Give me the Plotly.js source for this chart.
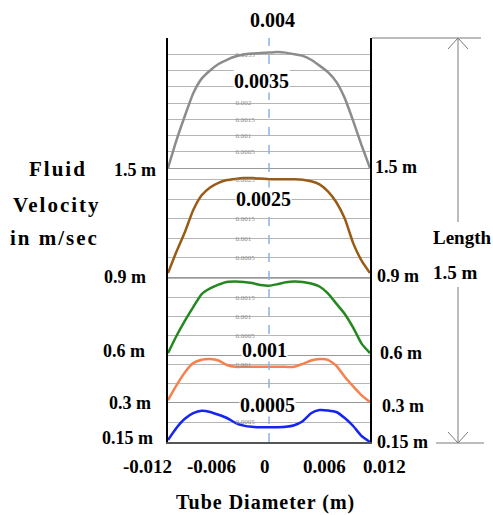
<!DOCTYPE html>
<html><head><meta charset="utf-8">
<script src="https://cdn.plot.ly/plotly-3.0.1.min.js"></script>
<style>html,body{margin:0;padding:0;background:#fff;}</style>
</head><body><div id="chart" style="width:493px;height:515px;"></div>
<script>
// Tube diameter positions (m)
const diameter = [-0.012,-0.011,-0.010,-0.009,-0.008,-0.007,-0.006,-0.005,-0.004,-0.003,-0.002,-0.001,0,
                  0.001,0.002,0.003,0.004,0.005,0.006,0.007,0.008,0.009,0.010,0.011,0.012];
// Fluid velocity (m/sec) at each axial station
const vel_1_5m  = [0,0.00085,0.0016,0.0023,0.00275,0.0030,0.0032,0.00333,0.00343,0.00349,0.00352,0.00354,0.00355,
                   0.00357,0.00355,0.0035,0.00345,0.00333,0.00315,0.00295,0.00265,0.00215,0.00145,0.0007,0];
const vel_0_9m  = [0.0001,0.00065,0.00115,0.00172,0.0021,0.0023,0.00242,0.00249,0.00252,0.00254,0.00254,0.00253,0.00251,
                   0.00251,0.00251,0.00251,0.0025,0.00246,0.00238,0.0022,0.00192,0.0015,0.00087,0.00042,0.0001];
const vel_0_6m  = [0.00005,0.0005,0.0009,0.00126,0.0016,0.00175,0.00185,0.00192,0.00193,0.00192,0.00189,0.00184,0.00182,
                   0.00186,0.00191,0.00193,0.00192,0.00188,0.0018,0.00162,0.00135,0.00108,0.00072,0.0003,0.00005];
const vel_0_3m  = [0.00005,0.00045,0.0008,0.00105,0.00114,0.00116,0.00112,0.001,0.00095,0.00095,0.00095,0.00095,0.00095,
                   0.00095,0.00095,0.00095,0.00103,0.00112,0.00116,0.00114,0.00098,0.00068,0.00042,0.00018,0];
const vel_0_15m = [0.00005,0.00035,0.00058,0.00072,0.00078,0.00075,0.00068,0.0006,0.00048,0.00041,0.00038,0.00037,0.00037,
                   0.00037,0.00038,0.00042,0.00052,0.00072,0.0008,0.00079,0.00075,0.0006,0.0004,0.00015,0];
// Station labels, tick labels
const stations = ['0.15 m','0.3 m','0.6 m','0.9 m','1.5 m'];
const xTickVals = [-0.012,-0.006,0,0.006,0.012];
const xTickText = ['-0.012','-0.006','0','0.006','0.012'];
const peakLabels = ['0.0005','0.001','0.0025','0.0035','0.004'];
// inner (faint) y tick values per panel, bottom panel first
const yTicks = [
  [0,0.0005,0.001],
  [0,0.0005,0.001],
  [0,0.0005,0.001,0.0015,0.002],
  [0,0.0005,0.001,0.0015,0.002,0.0025],
  [0,0.0005,0.001,0.0015,0.002,0.0025,0.003,0.0035,0.004]
];
const yTickText = [
  ['0','0.0005',''],
  ['','','0.001'],
  ['0','0.0005','0.001','0.0015',''],
  ['0','0.0005','0.001','0.0015','','0.0025'],
  ['0','0.0005','0.001','0.0015','0.002','','','0.0035','0.004']
];

const FONT = 'Liberation Serif, Times New Roman, serif';
const series = [vel_0_15m, vel_0_3m, vel_0_6m, vel_0_9m, vel_1_5m];
const colors = ['#1524f0','#f5824e','#23891f','#9a5b17','#8c8c8c'];
const yaxNames = ['y','y2','y3','y4','y5'];

const traces = series.map((v,i)=>({
  x: diameter, y: v, type:'scatter', mode:'lines', name: stations[i],
  xaxis:'x', yaxis: yaxNames[i], line:{color:colors[i], width:2.5, shape:'spline', smoothing:0.5},
  hoverinfo:'skip'
}));

// layout geometry (pixel-derived)
const PL=168, PR=370, PT=38, PB=442;
const W=PR-PL, H=PB-PT;
const px = x => (x-PL)/W;
const py = y => (PB-y)/H;

function yax(i, domain, range){
  return {domain, range, anchor:'x', showgrid:true, gridcolor:'#b5b5b5', gridwidth:1,
    tickmode:'array', tickvals:yTicks[i], ticktext:yTickText[i],
    zeroline:true, zerolinecolor:'#999', zerolinewidth:1,
    showline:true, linecolor:'#000', linewidth:2, mirror:true, ticks:'',
    ticklabelposition:'inside', ticklabelstandoff:66,
    tickfont:{family:FONT, size:7, color:'#8a8a8a'}, fixedrange:true};
}

const ann = [];
function T(text, x, y, size, xanchor, bg){
  const a = {text, x, y, xref:'paper', yref:'paper', showarrow:false, xanchor:xanchor||'center', yanchor:'middle',
    font:{family:FONT, size:size, color:'#000', weight:700}};
  if (bg) { a.bgcolor = '#fff'; a.borderpad = 0; }
  ann.push(a);
}
const sp = (t, s) => `<span style="letter-spacing:${s}px">${t}</span>`;
// peak value labels
T(peakLabels[4], px(272), py(20), 20);
T(peakLabels[3], px(261), py(81), 20, 'center', true);
T(peakLabels[2], px(263), py(199), 20, 'center', true);
T(peakLabels[1], px(264), py(350), 20, 'center', true);
T(peakLabels[0], px(267), py(405), 20, 'center', true);
// station labels on both sides
const leftPos = [[155,438],[153,403],[147,351],[148,277],[158,170]];
const rightPos = [[375,442],[380,406],[378,353],[375,276],[373,167]];
stations.forEach((s,i)=>{
  T(s, px(leftPos[i][0]), py(leftPos[i][1]), 18, 'right');
  T(s, px(rightPos[i][0]), py(rightPos[i][1]), 18, 'left');
});
// y title lines
T(sp('Fluid',2), px(58), py(169), 21);
T(sp('Velocity',2), px(57), py(205), 21);
T(sp('in m/sec',2), px(55), py(238), 21);
// length annotation
T('Length', px(462), py(237), 19);
T('1.5 m', px(455), py(272), 19);
// x title
T(sp('Tube Diameter (m)',1), px(265), py(503), 20);
// x tick labels
const xShift = [-21,-7,-4,5,14];
xTickVals.forEach((v,i)=>{
  ann.push({text:xTickText[i], x:v, y:py(466), xref:'x', yref:'paper', xshift:xShift[i], showarrow:false,
    xanchor:'center', yanchor:'middle', font:{family:FONT, size:19, color:'#000', weight:700}});
});

const G = '#7a7a7a';
const shapes = [
  {type:'line', xref:'x', yref:'paper', x0:0, x1:0, y0:0, y1:1, line:{color:'#8db3e2', width:1.5, dash:'dash'}},
  {type:'line', xref:'paper', yref:'paper', x0:px(458), x1:px(458), y0:py(38), y1:py(222), line:{color:G, width:1}},
  {type:'line', xref:'paper', yref:'paper', x0:px(458), x1:px(458), y0:py(287), y1:py(443), line:{color:G, width:1}},
  {type:'path', xref:'paper', yref:'paper',
    path:`M${px(448)},${py(49)} L${px(458)},${py(38)} L${px(468)},${py(49)}`, line:{color:G, width:1}},
  {type:'path', xref:'paper', yref:'paper',
    path:`M${px(448)},${py(432)} L${px(458)},${py(443)} L${px(468)},${py(432)}`, line:{color:G, width:1}},
  {type:'line', xref:'paper', yref:'paper', x0:px(372), x1:px(481), y0:py(38), y1:py(38), line:{color:G, width:1}},
  {type:'line', xref:'paper', yref:'paper', x0:px(436), x1:px(484), y0:py(443), y1:py(443), line:{color:G, width:1}}
];

const layout = {
  width:493, height:515, margin:{l:PL, r:493-PR, t:PT, b:515-PB},
  paper_bgcolor:'#fff', plot_bgcolor:'#fff', showlegend:false,
  xaxis:{range:[-0.012,0.012], anchor:'y', showgrid:false, zeroline:false, showticklabels:false, ticks:'',
    showline:true, linecolor:'#555', linewidth:1.5, fixedrange:true},
  yaxis:  yax(0, [0, py(402)], [0, 0.001]),
  yaxis2: yax(1, [py(402), py(355)], [0, 0.00127]),
  yaxis3: yax(2, [py(355), py(277)], [0, 0.00205]),
  yaxis4: yax(3, [py(277), py(168)], [0, 0.0028]),
  yaxis5: yax(4, [py(168), 1], [0, 0.004]),
  annotations: ann, shapes: shapes
};
Plotly.newPlot('chart', traces, layout, {displayModeBar:false, staticPlot:true});
</script></body></html>
